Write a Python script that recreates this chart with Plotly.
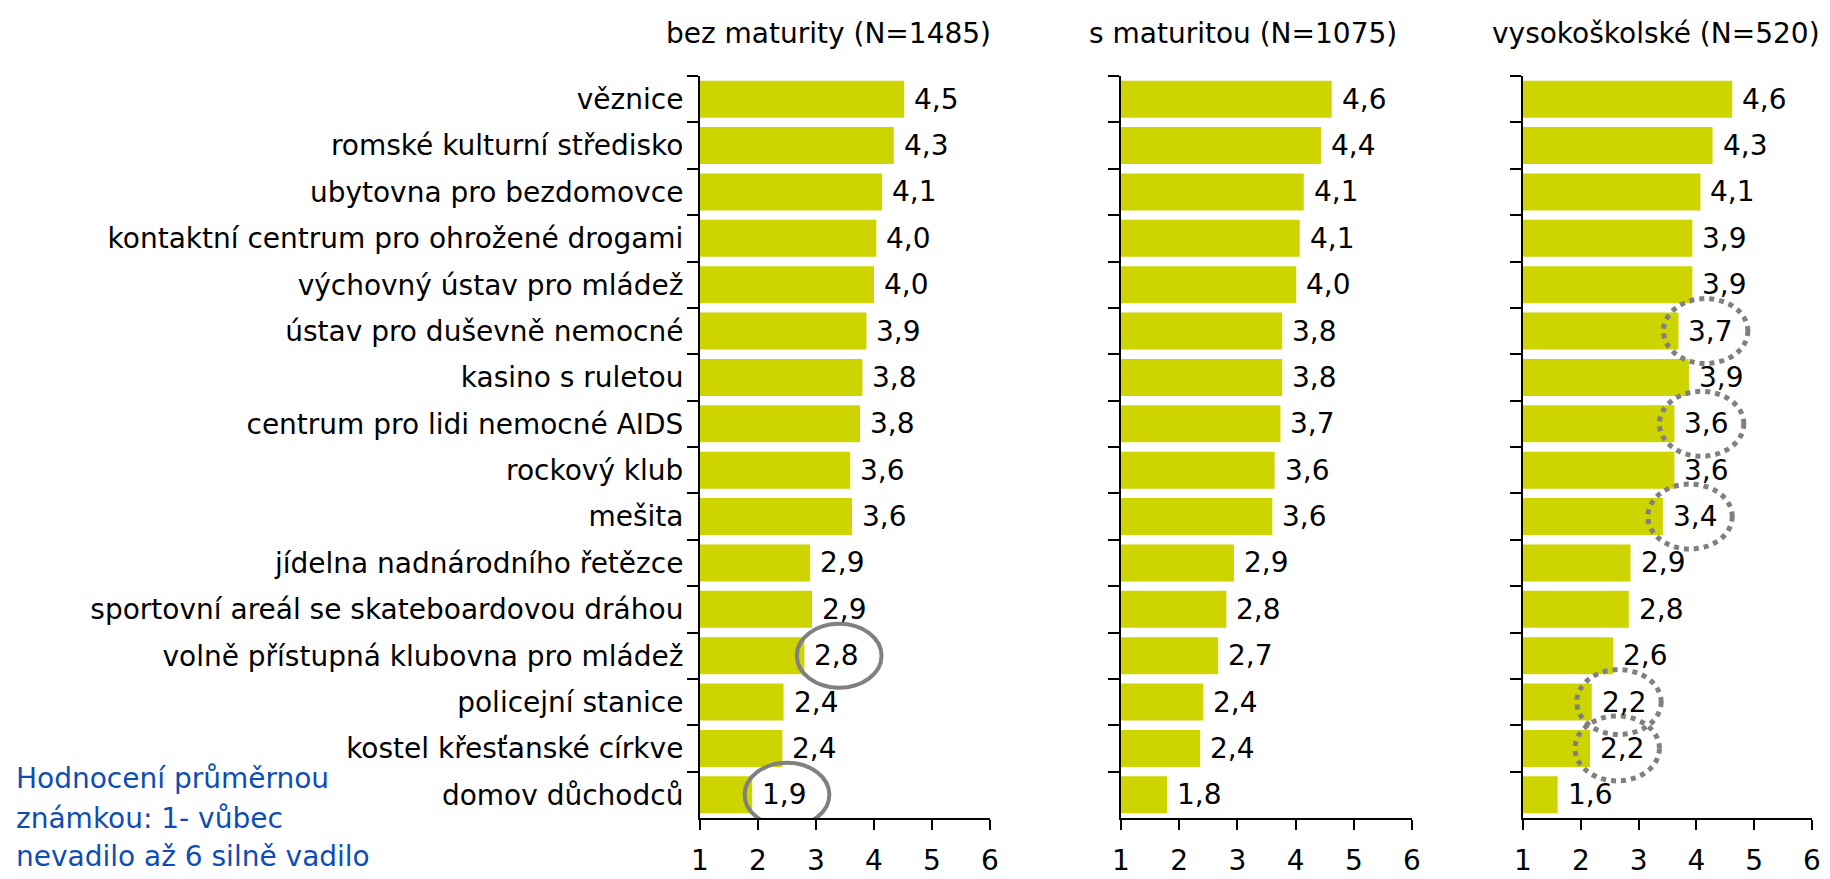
import plotly.graph_objects as go

# kategorie shora dolů
kategorie = [
    "věznice",
    "romské kulturní středisko",
    "ubytovna pro bezdomovce",
    "kontaktní centrum pro ohrožené drogami",
    "výchovný ústav pro mládež",
    "ústav pro duševně nemocné",
    "kasino s ruletou",
    "centrum pro lidi nemocné AIDS",
    "rockový klub",
    "mešita",
    "jídelna nadnárodního řetězce",
    "sportovní areál se skateboardovou dráhou",
    "volně přístupná klubovna pro mládež",
    "policejní stanice",
    "kostel křesťanské církve",
    "domov důchodců",
]

bez_maturity = [4.52, 4.34, 4.14, 4.04, 4.00, 3.87, 3.80, 3.76, 3.59, 3.62, 2.90, 2.93, 2.80, 2.44, 2.42, 1.90]
s_maturitou = [4.62, 4.44, 4.14, 4.07, 4.01, 3.77, 3.77, 3.74, 3.64, 3.60, 2.94, 2.81, 2.67, 2.41, 2.36, 1.79]
vysokoskolske = [4.62, 4.28, 4.07, 3.93, 3.93, 3.69, 3.87, 3.62, 3.62, 3.42, 2.86, 2.83, 2.56, 2.19, 2.16, 1.60]

nadpisy = ["bez maturity (N=1485)", "s maturitou (N=1075)", "vysokoškolské (N=520)"]
x_ticks = [1, 2, 3, 4, 5, 6]

# zakroužkované hodnoty
krouzky_plne = ["volně přístupná klubovna pro mládež", "domov důchodců"]  # 1. panel
krouzky_teckovane = ["ústav pro duševně nemocné", "centrum pro lidi nemocné AIDS", "mešita",
                     "policejní stanice", "kostel křesťanské církve"]  # 3. panel

poznamka = ["Hodnocení průměrnou", "známkou: 1- vůbec", "nevadilo až 6 silně vadilo"]

BARVA = "#CDD400"
MODRA = "#0D4DB5"
FONT = "DejaVu Sans"
VEL = 28

# stránka má okraj 8 px, proto je graf o 16 px menší než okno
OKRAJ = 8
W, H = 1830 - 2 * OKRAJ, 879 - 2 * OKRAJ


def px_x(p):
    return (p - OKRAJ) / W


def px_y(p):
    return 1 - (p - OKRAJ) / H


x_domeny = [(px_x(700), px_x(990)), (px_x(1121), px_x(1412)), (px_x(1523), px_x(1812))]
y_domena = (px_y(818), px_y(76))
stredy_nadpisu = [px_x(828), px_x(1243), px_x(1656)]

fig = go.Figure()
data = [bez_maturity, s_maturitou, vysokoskolske]

anotace = []
tvary = []
for i, hodnoty in enumerate(data):
    sfx = "" if i == 0 else str(i + 1)
    fig.add_trace(go.Bar(
        x=hodnoty, y=kategorie, orientation="h",
        marker_color=BARVA, marker_line_width=0,
        xaxis="x" + sfx, yaxis="y" + sfx, showlegend=False,
    ))
    # popisky hodnot vpravo od sloupců
    for kat, v in zip(kategorie, hodnoty):
        anotace.append(dict(
            x=v, y=kat, xref="x" + sfx, yref="y" + sfx,
            text=f"{v:.1f}".replace(".", ","), showarrow=False,
            xanchor="left", xshift=8, font=dict(size=VEL, color="black"),
        ))
    anotace.append(dict(
        x=stredy_nadpisu[i], y=px_y(33), xref="paper", yref="paper",
        text=nadpisy[i], showarrow=False, xanchor="center", yanchor="middle",
        font=dict(size=VEL, color="black"),
    ))

# kroužky: plné (1. panel), tečkované (3. panel)
for kat in krouzky_plne:
    k = kategorie.index(kat)
    cx = bez_maturity[k] + 0.6
    tvary.append(dict(type="circle", xref="x", yref="y",
                      x0=cx - 0.73, x1=cx + 0.73, y0=k - 0.69, y1=k + 0.69,
                      line=dict(color="#808080", width=4)))
for kat in krouzky_teckovane:
    k = kategorie.index(kat)
    cx = vysokoskolske[k] + 0.47
    tvary.append(dict(type="circle", xref="x3", yref="y3",
                      x0=cx - 0.73, x1=cx + 0.73, y0=k - 0.7, y1=k + 0.7,
                      line=dict(color="#808080", width=5, dash="5px,5px")))

# poznámka vlevo dole
for radek, y_px in zip(poznamka, [778, 818, 856]):
    anotace.append(dict(
        x=px_x(14), y=px_y(y_px), xref="paper", yref="paper", text=radek,
        showarrow=False, xanchor="left", yanchor="middle", align="left",
        font=dict(size=VEL, color=MODRA),
    ))

layout = dict(
    width=W, height=H, autosize=False,
    plot_bgcolor="white", paper_bgcolor="white",
    font=dict(family=FONT, size=VEL, color="black"),
    margin=dict(l=0, r=0, t=0, b=0),
    bargap=0.2,
    annotations=anotace, shapes=tvary,
)
for i in range(3):
    sfx = "" if i == 0 else str(i + 1)
    layout["xaxis" + sfx] = dict(
        domain=list(x_domeny[i]), anchor="y" + sfx, range=[1, 6],
        tickvals=x_ticks, ticks="outside", ticklen=10, tickwidth=2, tickcolor="black",
        showline=True, linecolor="black", linewidth=2, showgrid=False, zeroline=False,
        ticklabelstandoff=6, tickfont=dict(size=VEL), automargin=False,
    )
    layout["yaxis" + sfx] = dict(
        domain=list(y_domena), anchor="x" + sfx, type="category",
        categoryorder="array", categoryarray=kategorie, range=[15.5, -0.5],
        ticks="outside", tickson="boundaries", ticklen=11, tickwidth=2, tickcolor="black",
        showline=True, linecolor="black", linewidth=2, showgrid=False,
        showticklabels=(i == 0), ticklabelstandoff=9,
        tickfont=dict(size=VEL), automargin=False,
    )

fig.update_layout(layout)
fig.write_html("out.html")
